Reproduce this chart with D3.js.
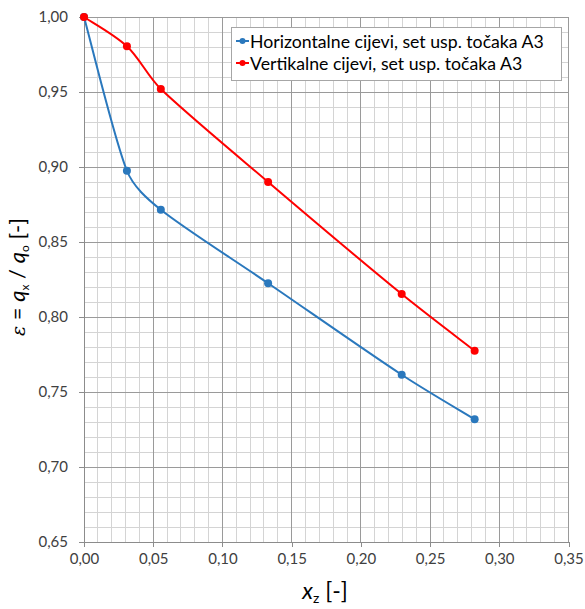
<!DOCTYPE html>
<html><head><meta charset="utf-8">
<script src="https://cdn.jsdelivr.net/npm/d3@7"></script>
<style>body{margin:0;background:#fff}svg{display:block}</style>
</head><body>
<svg id="c" width="585" height="609"></svg>
<script>
const xValues = [0.000, 0.031, 0.0555, 0.133, 0.2295, 0.2822];
const horizontalValues = [1.000, 0.8975, 0.8715, 0.8225, 0.7615, 0.7318];
const verticalValues = [1.000, 0.9805, 0.952, 0.890, 0.8153, 0.7775];
const seriesNames = ["Horizontalne cijevi, set usp. točaka A3", "Vertikalne cijevi, set usp. točaka A3"];
const xTicks = [0, 0.05, 0.10, 0.15, 0.20, 0.25, 0.30, 0.35];
const yTicks = [0.65, 0.70, 0.75, 0.80, 0.85, 0.90, 0.95, 1.00];

const svg = d3.select("#c");
const x = d3.scaleLinear().domain([0, 0.35]).range([84, 568.5]);
const y = d3.scaleLinear().domain([0.65, 1.0]).range([542, 17]);
const fmt = d => d.toFixed(2).replace(".", ",");
const sans = "Lato, 'Open Sans', sans-serif";

// minor grid
const minorX = d3.range(0, 35.5, 1).map(v => v / 100);
const minorY = d3.range(65, 100.5, 1).map(v => v / 100);
const g = svg.append("g");
g.selectAll(".mx").data(minorX).join("line")
  .attr("x1", d => x(d)).attr("x2", d => x(d)).attr("y1", y(0.65)).attr("y2", y(1))
  .attr("stroke", "#d4d4d4").attr("stroke-width", 1).attr("shape-rendering", "crispEdges");
g.selectAll(".my").data(minorY).join("line")
  .attr("y1", d => y(d)).attr("y2", d => y(d)).attr("x1", x(0)).attr("x2", x(0.35))
  .attr("stroke", "#d4d4d4").attr("stroke-width", 1).attr("shape-rendering", "crispEdges");
// major grid
g.selectAll(".Mx").data(xTicks).join("line")
  .attr("x1", d => x(d)).attr("x2", d => x(d)).attr("y1", y(0.65)).attr("y2", y(1))
  .attr("stroke", "#9a9a9a").attr("stroke-width", 1).attr("shape-rendering", "crispEdges");
g.selectAll(".My").data(yTicks).join("line")
  .attr("y1", d => y(d)).attr("y2", d => y(d)).attr("x1", x(0)).attr("x2", x(0.35))
  .attr("stroke", "#9a9a9a").attr("stroke-width", 1).attr("shape-rendering", "crispEdges");

// axes
const xAxis = svg.append("g").attr("transform", `translate(0,${y(0.65)})`)
  .call(d3.axisBottom(x).tickValues(xTicks).tickFormat(fmt).tickSize(5).tickPadding(6));
const yAxis = svg.append("g").attr("transform", `translate(${x(0)},0)`)
  .call(d3.axisLeft(y).tickValues(yTicks).tickFormat(fmt).tickSize(5).tickPadding(11));
[xAxis, yAxis].forEach(a => {
  a.select(".domain").attr("stroke", "#8c8c8c").attr("shape-rendering", "crispEdges");
  a.selectAll(".tick line").attr("stroke", "#8c8c8c").attr("shape-rendering", "crispEdges");
  a.selectAll("text").attr("fill", "#404040").attr("font-family", sans).attr("font-size", 15);
});

// smooth path: Catmull-Rom tangents, control arms capped at a third of the adjacent segment
function smoothPath(pts) {
  const p = d3.path();
  const n = pts.length;
  const dist = (a, b) => Math.hypot(b[0] - a[0], b[1] - a[1]);
  const tan = pts.map((pt, i) => {
    const a = pts[Math.max(0, i - 1)], b = pts[Math.min(n - 1, i + 1)];
    return [(b[0] - a[0]) / 6, (b[1] - a[1]) / 6];
  });
  const scaled = (t, L) => {
    const m = Math.hypot(t[0], t[1]) || 1;
    const k = Math.min(1, L / m);
    return [t[0] * k, t[1] * k];
  };
  p.moveTo(pts[0][0], pts[0][1]);
  for (let i = 0; i < n - 1; i++) {
    const a = pts[i], b = pts[i + 1];
    const L = dist(a, b) / 3;
    const ta = scaled(tan[i], L), tb = scaled(tan[i + 1], L);
    p.bezierCurveTo(a[0] + ta[0], a[1] + ta[1], b[0] - tb[0], b[1] - tb[1], b[0], b[1]);
  }
  return p.toString();
}

// series
const colors = ["#2a78bd", "#ff0000"];
const seriesData = [horizontalValues, verticalValues].map(vals => xValues.map((xv, i) => [xv, vals[i]]));
seriesData.forEach((pts, i) => {
  const px = pts.map(d => [x(d[0]), y(d[1])]);
  svg.append("path").attr("d", smoothPath(px)).attr("fill", "none")
    .attr("stroke", colors[i]).attr("stroke-width", 2);
  svg.append("g").selectAll("circle").data(pts).join("circle")
    .attr("cx", d => x(d[0])).attr("cy", d => y(d[1])).attr("r", 4).attr("fill", colors[i]);
});

// legend
const lg = svg.append("g");
lg.append("rect").attr("x", 231.5).attr("y", 27.5).attr("width", 330).attr("height", 53)
  .attr("fill", "#fff").attr("stroke", "#a6a6a6").attr("stroke-width", 1);
const legTexts = [];
seriesNames.forEach((n, i) => {
  const yy = 41 + i * 22;
  lg.append("line").attr("x1", 236).attr("x2", 249).attr("y1", yy).attr("y2", yy)
    .attr("stroke", colors[i]).attr("stroke-width", 2);
  lg.append("circle").attr("cx", 242.5).attr("cy", yy).attr("r", 3).attr("fill", colors[i]);
  legTexts.push(lg.append("text").attr("x", 250).attr("y", yy + 6.5).text(n)
    .attr("font-family", sans).attr("font-size", 18).attr("fill", "#000"));
});
const w0 = legTexts[0].node().getComputedTextLength();
const fs = Math.min(20, 18 * 294 / w0);
legTexts.forEach(t => t.attr("font-size", fs));

// axis titles
const xt = svg.append("text").attr("x", 325).attr("y", 599).attr("text-anchor", "middle")
  .attr("font-family", sans).attr("font-size", 23).attr("fill", "#000");
xt.append("tspan").text("x").attr("font-style", "italic");
xt.append("tspan").text("z").attr("font-size", 14).attr("dy", 4);
xt.append("tspan").text(" [-]").attr("dy", -4);

const yt = svg.append("text").attr("transform", "translate(25,277) rotate(-90)").attr("text-anchor", "middle")
  .attr("font-family", sans).attr("font-size", 22).attr("fill", "#000");
yt.append("tspan").text("ε").attr("font-style", "italic").attr("font-family", "'DejaVu Serif', serif").attr("font-size", 19);
yt.append("tspan").text(" = ");
yt.append("tspan").text("q").attr("font-style", "italic");
yt.append("tspan").text("x").attr("font-size", 12).attr("dy", 4);
yt.append("tspan").text(" / ").attr("dy", -4);
yt.append("tspan").text("q").attr("font-style", "italic");
yt.append("tspan").text("o").attr("font-size", 12).attr("dy", 4);
yt.append("tspan").text(" [-]").attr("dy", -4);
</script>
</body></html>
